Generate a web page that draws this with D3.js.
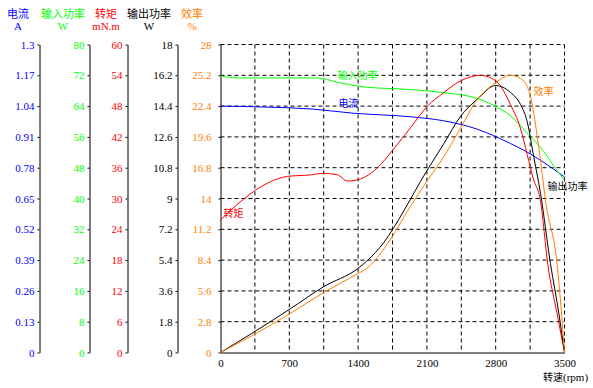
<!DOCTYPE html>
<html>
<head>
<meta charset="utf-8">
<script src="https://cdn.jsdelivr.net/npm/d3@7"></script>
<style>
    body { margin: 0; background: #fff; }
    svg { display: block; }
    .tick text, .unit { font-family: "Liberation Serif", "Times New Roman", serif; font-size: 11px; }
    .cjk { font-family: "Noto Sans CJK SC", sans-serif; font-size: 11px; }
    .cjk.curve { font-size: 10px; }
</style>
</head>
<body>
<svg width="593" height="388"></svg>
<script>

// axis tick labels
const currentTicks = [0, 0.13, 0.26, 0.39, 0.52, 0.65, 0.78, 0.91, 1.04, 1.17, 1.3];
const inputTicks = [0, 8, 16, 24, 32, 40, 48, 56, 64, 72, 80];
const torqueTicks = [0, 6, 12, 18, 24, 30, 36, 42, 48, 54, 60];
const outputTicks = [0, 1.8, 3.6, 5.4, 7.2, 9, 10.8, 12.6, 14.4, 16.2, 18];
const effTicks = [0, 2.8, 5.6, 8.4, 11.2, 14, 16.8, 19.6, 22.4, 25.2, 28];
const speedTicks = [0, 700, 1400, 2100, 2800, 3500];
const speedGrid = [350, 700, 1050, 1400, 1750, 2100, 2450, 2800, 3150, 3500];

// series (speed rpm -> value)
const currentRpm = [0, 460, 920, 1350, 1930, 2270, 2610, 2780, 2950, 3120, 3290, 3430, 3500];
const currentA = [1.04, 1.036, 1.028, 1.01, 0.995, 0.978, 0.943, 0.915, 0.882, 0.846, 0.802, 0.762, 0.741];

const inputRpm = [0, 200, 990, 1190, 1455, 1930, 2270, 2610, 2780, 2950, 3120, 3290, 3425, 3500];
const inputW = [71.8, 71.3, 71.3, 70.2, 69.0, 68.3, 67.5, 66.0, 64.2, 61.5, 57.0, 52.2, 47.2, 44.8];

const torqueRpm = [0, 236, 489, 680, 916, 1048, 1190, 1292, 1424, 1597, 1760, 1933, 2106, 2269, 2442, 2645, 2750, 2850, 2950, 3050, 3120, 3180, 3256, 3330, 3425, 3500];
const torqueMNm = [25.8, 29.9, 33.1, 34.3, 34.6, 34.9, 34.6, 33.4, 33.8, 36.0, 39.6, 43.8, 48.0, 50.6, 52.9, 54.0, 53.5, 51.9, 48.3, 43.8, 38.6, 34.0, 29.5, 17.2, 7.5, 0];

const outputRpm = [0, 339, 712, 1051, 1391, 1492, 1662, 1865, 1933, 2035, 2272, 2442, 2612, 2800, 2950, 3052, 3120, 3188, 3256, 3357, 3442, 3500];
const outputW = [0, 1.19, 2.56, 3.85, 4.88, 5.36, 6.43, 8.28, 8.96, 10.0, 12.2, 13.8, 14.8, 15.6, 15.2, 14.5, 13.5, 11.4, 9.3, 5.2, 2.3, 0];

const effRpm = [0, 339, 712, 1051, 1391, 1492, 1730, 1933, 2103, 2272, 2442, 2612, 2781, 2951, 3086, 3137, 3171, 3205, 3239, 3273, 3307, 3425, 3500];
const effPct = [0, 1.62, 3.56, 5.46, 7.14, 7.67, 10.3, 13.3, 15.6, 17.8, 20.4, 23.0, 24.4, 25.2, 24.7, 23.8, 22.6, 20.7, 18.6, 16.2, 13.8, 8.0, 0];

const axisTitles = ["电流", "输入功率", "转矩", "输出功率", "效率"];
const axisUnits = ["A", "W", "mN.m", "W", "%"];

const svg = d3.select("svg");
const top_ = 44.5, bottom = 352.5;

const x = d3.scaleLinear().domain([0, 3500]).range([220.5, 564.5]);

// one left axis per series
const axes = [
    { ticks: currentTicks, color: "#0000ff", ax: 39.5, pad: 3, hx: 18 },
    { ticks: inputTicks, color: "#00ff00", ax: 89.5, pad: 3, hx: 63 },
    { ticks: torqueTicks, color: "#ff0000", ax: 127.5, pad: 3, hx: 106 },
    { ticks: outputTicks, color: "#000000", ax: 177.5, pad: 3, hx: 149 },
    { ticks: effTicks, color: "#ff8000", ax: 220.5, pad: 7, hx: 192 }
];
axes.forEach((a, i) => {
    a.y = d3.scaleLinear().domain([0, d3.max(a.ticks)]).range([bottom, top_]);
    a.title = axisTitles[i];
    a.unit = axisUnits[i];
});

// grid
const grid = svg.append("g")
    .attr("stroke", "#000")
    .attr("stroke-width", 1)
    .attr("stroke-dasharray", "4,3");

grid.selectAll(".h").data(effTicks.slice(1)).join("line")
    .attr("x1", x(0)).attr("x2", x(3500))
    .attr("y1", d => axes[4].y(d)).attr("y2", d => axes[4].y(d));

grid.selectAll(".v").data(speedGrid).join("line")
    .attr("x1", d => x(d)).attr("x2", d => x(d))
    .attr("y1", top_).attr("y2", bottom);

// left axes
axes.forEach(a => {
    const g = svg.append("g")
        .attr("transform", "translate(" + a.ax + ",0)")
        .call(d3.axisLeft(a.y)
            .tickValues(a.ticks)
            .tickFormat(d => String(d))
            .tickSize(2)
            .tickSizeOuter(0)
            .tickPadding(a.pad));
    g.select(".domain").attr("stroke", "#000");
    g.selectAll(".tick line").attr("stroke", "#000");
    g.selectAll(".tick text").attr("fill", a.color);

    svg.append("text")
        .attr("class", "cjk")
        .attr("x", a.hx).attr("y", 18)
        .attr("text-anchor", "middle")
        .attr("fill", a.color)
        .text(a.title);

    svg.append("text")
        .attr("class", "unit")
        .attr("x", a.hx).attr("y", 30)
        .attr("text-anchor", "middle")
        .attr("fill", a.color)
        .text(a.unit);
});

// bottom axis
const gx = svg.append("g")
    .attr("transform", "translate(0," + bottom + ")")
    .call(d3.axisBottom(x)
        .tickValues(speedTicks)
        .tickFormat(d => String(d))
        .tickSize(0)
        .tickSizeOuter(0)
        .tickPadding(7));
gx.select(".domain").attr("stroke", "#000");
gx.selectAll(".tick text").attr("fill", "#000");

const xt = svg.append("text").attr("x", 543).attr("y", 381).attr("fill", "#000");
xt.append("tspan").attr("class", "cjk curve").text("转速");
xt.append("tspan").attr("class", "unit").text("(rpm)");

// series lines
const series = [
    { rpm: currentRpm, val: currentA, axis: axes[0], label: "电流", lr: 1200, lv: 1.049 },
    { rpm: inputRpm, val: inputW, axis: axes[1], label: "输入功率", lr: 1190, lv: 72.0 },
    { rpm: torqueRpm, val: torqueMNm, axis: axes[2], label: "转矩", lr: 30, lv: 27.0 },
    { rpm: outputRpm, val: outputW, axis: axes[3], label: "输出功率", lr: 3327, lv: 9.68 },
    { rpm: effRpm, val: effPct, axis: axes[4], label: "效率", lr: 3185, lv: 23.7 }
];

series.forEach(s => {
    const pts = s.rpm.map((r, i) => [r, s.val[i]]);
    const line = d3.line()
        .curve(d3.curveMonotoneX)
        .x(d => x(d[0]))
        .y(d => s.axis.y(d[1]));

    svg.append("path")
        .datum(pts)
        .attr("fill", "none")
        .attr("stroke", s.axis.color)
        .attr("stroke-width", 1)
        .attr("d", line);
});

series.forEach(s => {
    svg.append("text")
        .attr("class", "cjk curve")
        .attr("x", x(s.lr))
        .attr("y", s.axis.y(s.lv))
        .attr("dy", "0.35em")
        .attr("fill", s.axis.color)
        .text(s.label);
});

</script>
</body>
</html>
